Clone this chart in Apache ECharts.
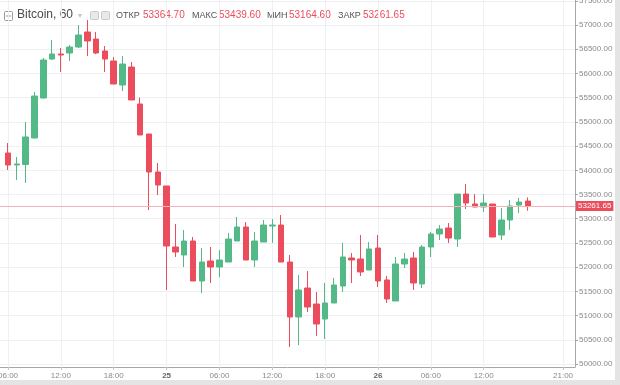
<!DOCTYPE html>
<html><head><meta charset="utf-8">
<script src="https://cdn.jsdelivr.net/npm/echarts@6/dist/echarts.min.js"></script>
<style>html,body{margin:0;padding:0;background:#fff}#c{width:620px;height:385px}</style>
</head><body><div id="c"></div>
<script>
// Bitcoin, 60-minute candles, first candle: day 24, 06:00
const startHour = 6;
const opens  = [54357,54110,54120,54667,55493,56298,56402,56422,56546,56856,56711,56464,56257,55761,56133,55369,54750,53965,53676,52416,
                52251,52540,51714,52127,52003,52106,52540,52829,52148,52519,52850,52870,52106,50971,51569,51239,50929,51260,51611,52189,
                52168,51941,52395,51735,51301,52065,52189,51652,52416,52685,52808,52581,53510,53304,53242,53304,52664,52974,53283,53364.70];
const closes = [54109,54130,54688,55534,56278,56402,56381,56546,56794,56670,56422,56298,55782,56195,55452,54729,53965,53696,52437,52313,
                52540,51714,52106,52003,52148,52581,52829,52148,52540,52870,52870,52106,50971,51528,51177,50826,51260,51631,52210,52148,
                51900,52375,51714,51342,52065,52168,51673,52416,52685,52788,52602,53510,53325,53242,53325,52623,52974,53263,53345,53261.65];
const lows   = [54006,53800,53738,54660,55480,56278,56030,56257,56525,56360,56402,56030,55782,55638,55452,54729,53180,53490,51528,52210,
                52003,51714,51466,51673,51797,52106,52540,52148,52003,52519,52499,52106,50351,50392,51074,50578,50516,51260,51487,51673,
                51817,51941,51590,51260,51301,51982,51528,51569,52210,52561,52499,52416,53201,53242,53139,52623,52561,52767,53118,53164.60];
const highs  = [54564,54275,54997,55617,56319,56691,56525,56587,57000,57104,56856,56567,56340,56360,56236,55500,54750,54151,53676,52891,
                52767,52623,52395,52416,52354,52705,53036,52932,52726,52974,52994,53077,52251,51838,51920,51487,51673,51776,52499,52292,
                52664,52519,52664,51817,52210,52292,52313,52457,52726,52870,52912,53510,53717,53510,53510,53304,53221,53387,53428,53439.60];
const priceTicks = [50000,50500,51000,51500,52000,52500,53000,53500,54000,54500,55000,55500,56000,56500,57000,57500];
const timeTicks  = [6,12,18,24,30,36,42,48,54,60,69];
const timeLabels = ['06:00','12:00','18:00','25','06:00','12:00','18:00','26','06:00','12:00','21:00'];
const dayTicks = [24,48];
const symbolName = 'Bitcoin, 60';
const headerKeys = ['ОТКР','МАКС','МИН','ЗАКР'];
const headerVals = ['53364.70','53439.60','53164.60','53261.65'];
const lastClose = 53261.65;

const UP = '#53b987', DOWN = '#eb4d5c';
const FONT = 'Liberation Sans';

const candles = opens.map((o, i) => [startHour + i, o, closes[i], lows[i], highs[i]]);

const chart = echarts.init(document.getElementById('c'));

const headerX = [{k:116, v:143}, {k:192, v:219}, {k:267, v:289}, {k:338, v:363}];
const header = [];
header.push({type:'rect', left:4, top:11, shape:{width:8, height:9, r:1}, style:{fill:'#fff', stroke:'#9a9a9a', lineWidth:1}});
header.push({type:'line', shape:{x1:6, y1:16, x2:11, y2:16}, style:{stroke:'#9a9a9a', lineWidth:1}});
header.push({type:'text', left:17, top:9, style:{text:symbolName, fill:'#4a4a4a', font:'12px "'+FONT+'"'}});
header.push({type:'text', left:78, top:12, style:{text:'▾', fill:'#c4c4c4', font:'8px "DejaVu Sans"'}});
header.push({type:'rect', left:90, top:11, shape:{width:8, height:8, r:1}, style:{fill:'#e9e9e9', stroke:'#c9c9c9', lineWidth:1}});
header.push({type:'rect', left:101, top:11, shape:{width:8, height:8, r:1}, style:{fill:'#e9e9e9', stroke:'#c9c9c9', lineWidth:1}});
headerKeys.forEach((k, i) => {
  header.push({type:'text', left:headerX[i].k, top:11, style:{text:k, fill:'#555', font:'9px "'+FONT+'"'}});
  header.push({type:'text', left:headerX[i].v, top:10.5, style:{text:headerVals[i], fill:DOWN, font:'10px "'+FONT+'"'}});
});
// frame
header.push({type:'rect', left:615, top:0, shape:{width:5, height:385}, style:{fill:'#e4e4e4'}, z:-1});
header.push({type:'rect', left:0, top:380, shape:{width:620, height:5}, style:{fill:'#e4e4e4'}, z:-1});

chart.setOption({
  backgroundColor:'#fff',
  animation:false,
  grid:{left:0, right:45, top:0, bottom:18, outerBoundsMode:'none', containLabel:false},
  xAxis:{
    type:'value', min:5.09, max:70.36,
    axisLine:{show:true, lineStyle:{color:'#a8a8a8', width:1}},
    axisTick:{show:true, length:3, customValues:timeTicks, lineStyle:{color:'#c8c8c8'}},
    splitLine:{show:true, lineStyle:{color:'#eef0f4', width:1}},
    axisLabel:{
      customValues:timeTicks, margin:5, color:'#8a8a8a', fontSize:8, fontFamily:FONT,
      formatter:(v) => {
        const idx = timeTicks.indexOf(Math.round(v));
        const t = idx >= 0 ? timeLabels[idx] : '';
        return dayTicks.includes(Math.round(v)) ? '{b|' + t + '}' : t;
      },
      rich:{b:{fontWeight:'bold', color:'#666', fontSize:8, fontFamily:FONT}}
    }
  },
  yAxis:{
    type:'value', position:'right', min:49938, max:57517, scale:true,
    axisLine:{show:true, lineStyle:{color:'#a8a8a8', width:1}},
    axisTick:{show:true, length:3, customValues:priceTicks, lineStyle:{color:'#a8a8a8'}},
    splitLine:{show:true, lineStyle:{color:'#eef0f4', width:1}},
    axisLabel:{customValues:priceTicks, margin:4, color:'#8a8a8a', fontSize:8, fontFamily:FONT,
      formatter:(v) => v.toFixed(2)}
  },
  series:[{
    type:'candlestick',
    data:candles,
    encode:{x:0, y:[1,2,3,4]},
    barWidth:6,
    itemStyle:{color:UP, color0:DOWN, borderColor:UP, borderColor0:DOWN, borderWidth:1},
    markLine:{
      silent:true, symbol:'none', animation:false,
      lineStyle:{color:'#f2b3b9', width:1, type:'solid'},
      label:{show:true, position:'end', distance:1, formatter:() => lastClose.toFixed(2),
        backgroundColor:DOWN, color:'#fff', fontSize:8, fontFamily:FONT, padding:[1,2,1,2]},
      data:[{yAxis:lastClose}]
    }
  }],
  graphic:header
});
</script></body></html>
